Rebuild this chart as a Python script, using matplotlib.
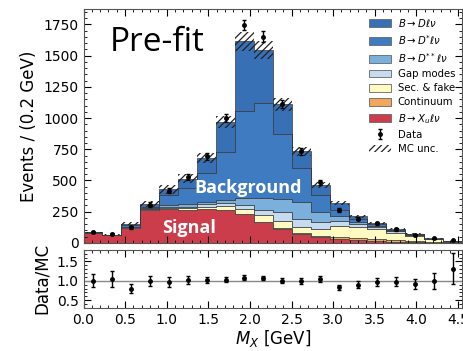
import numpy as np
import matplotlib
matplotlib.use("Agg")
import matplotlib.pyplot as plt
from matplotlib.patches import Patch
from matplotlib.ticker import MultipleLocator

# ---------------- data ----------------
bin_edges = np.linspace(0.0, 4.55, 21)

signal    = [82, 65, 122, 262, 268, 262, 268, 262, 230, 165, 115, 72, 48, 32, 22, 14, 9, 5, 3, 1]
continuum = [0, 0, 0, 0, 0, 0, 1, 2, 3, 5, 7, 8, 10, 13, 15, 16, 13, 11, 7, 3]
secfake   = [0, 0, 1, 6, 10, 16, 21, 28, 42, 50, 56, 45, 52, 91, 91, 80, 61, 40, 19, 7]
gapmodes  = [0, 0, 2, 4, 7, 12, 20, 28, 30, 45, 67, 65, 55, 39, 22, 15, 9, 5, 2, 1]
dss       = [0, 0, 3, 6, 15, 20, 20, 25, 55, 95, 110, 140, 80, 40, 20, 12, 6, 3, 2, 1]
dstar     = [2, 1, 12, 12, 80, 130, 230, 385, 700, 760, 515, 270, 135, 50, 20, 13, 6, 4, 2, 1]
dlnu      = [2, 1, 15, 20, 50, 75, 120, 240, 555, 425, 240, 135, 85, 53, 25, 12, 6, 4, 2, 2]

mc_unc    = [4, 4, 12, 25, 35, 35, 40, 50, 75, 70, 50, 35, 25, 15, 12, 8, 6, 4, 3, 2]

data      = [86, 70, 124, 307, 417, 525, 694, 1000, 1744, 1653, 1110, 735, 484, 264, 194, 157, 108, 66, 37, 21]
data_err  = [9, 8, 11, 18, 20, 23, 26, 32, 42, 41, 33, 27, 22, 16, 14, 13, 10, 8, 6, 5]
ratio_err = [0.17, 0.21, 0.11, 0.13, 0.12, 0.10, 0.07, 0.06, 0.06, 0.06, 0.06, 0.07, 0.08, 0.07, 0.08, 0.11, 0.12, 0.14, 0.20, 0.40]

components = [
    (signal,    r'$B\to X_u\ell\nu$',     '#cc3d4b'),
    (continuum, 'Continuum',              '#f2a65e'),
    (secfake,   'Sec. & fake',            '#fff9c2'),
    (gapmodes,  'Gap modes',              '#c6dbef'),
    (dss,       r'$B\to D^{**}\ell\nu$',  '#7bb0dc'),
    (dstar,     r'$B\to D^{*}\ell\nu$',   '#3f7bc0'),
    (dlnu,      r'$B\to D\ell\nu$',       '#3870b6'),
]

# ---------------- figure ----------------
plt.rcParams['font.family'] = ['DejaVu Sans']
plt.rcParams['hatch.linewidth'] = 0.9
fig = plt.figure(figsize=(4.64, 3.51), dpi=100)
ax = fig.add_axes([0.180, 0.308, 0.816, 0.665])
axr = fig.add_axes([0.180, 0.123, 0.816, 0.165])

centers = 0.5 * (bin_edges[1:] + bin_edges[:-1])
base = np.zeros(len(centers))
handles = []
for vals, label, color in components:
    vals = np.asarray(vals, dtype=float)
    top = base + vals
    ax.stairs(top, bin_edges, baseline=base, fill=True, facecolor=color,
              edgecolor='#3a3a3a', linewidth=0.5)
    handles.append(Patch(facecolor=color, edgecolor='#666666', linewidth=0.6, label=label))
    base = top
total = base

# MC uncertainty hatch
unc = np.asarray(mc_unc, dtype=float)
ax.stairs(total + unc, bin_edges, baseline=total - unc, fill=True,
          facecolor='none', edgecolor='#222222', hatch='/////', linewidth=0)

# data
eb = ax.errorbar(centers, data, yerr=data_err, fmt='o', color='black',
                 markersize=2.5, elinewidth=1.0, capsize=1.5, capthick=1.0)

handles = handles[::-1]
hatch_patch = Patch(facecolor='none', edgecolor='#222222', hatch='/////', linewidth=0, label='MC unc.')
ax.legend(handles + [eb, hatch_patch],
          [h.get_label() for h in handles] + ['Data', 'MC unc.'],
          loc='upper right', fontsize=7.3, frameon=False,
          handlelength=2.2, handleheight=0.8, labelspacing=0.42,
          borderaxespad=0.3, handletextpad=0.6)

ax.set_xlim(0, 4.55)
ax.set_ylim(0, 1870)
ax.set_xticklabels([])
ax.yaxis.set_major_locator(MultipleLocator(250))
ax.yaxis.set_minor_locator(MultipleLocator(50))
ax.xaxis.set_major_locator(MultipleLocator(0.5))
ax.xaxis.set_minor_locator(MultipleLocator(0.1))
ax.set_ylabel('Events / (0.2 GeV)', fontsize=12)

ax.text(0.07, 0.93, 'Pre-fit', transform=ax.transAxes, fontsize=24,
        family='Open Sans', va='top', ha='left')
ax.text(1.98, 440, 'Background', fontsize=13, family='Open Sans',
        weight='bold', color='white', ha='center', va='center')
ax.text(1.27, 120, 'Signal', fontsize=13, family='Open Sans',
        weight='bold', color='white', ha='center', va='center')

# ratio
ratio = np.asarray(data, dtype=float) / total
axr.axhline(1.0, color='#888888', linewidth=1.0)
axr.errorbar(centers, ratio, yerr=ratio_err, fmt='o', color='black',
             markersize=2.5, elinewidth=1.0, capsize=1.5, capthick=1.0)
axr.set_xlim(0, 4.55)
axr.set_ylim(0.3, 1.8)
axr.yaxis.set_major_locator(MultipleLocator(0.5))
axr.yaxis.set_minor_locator(MultipleLocator(0.1))
axr.xaxis.set_major_locator(MultipleLocator(0.5))
axr.xaxis.set_minor_locator(MultipleLocator(0.1))
axr.set_ylabel('Data/MC', fontsize=12)
axr.set_xlabel(r'$M_X$ [GeV]', fontsize=12, labelpad=1)

for a in (ax, axr):
    a.tick_params(which='both', direction='in', top=True, right=True, labelsize=10)
    a.tick_params(which='major', length=5)
    a.tick_params(which='minor', length=2.5)
    for s in a.spines.values():
        s.set_color('#555555')

fig.align_ylabels([ax, axr])
fig.savefig('out.png', dpi=100)
